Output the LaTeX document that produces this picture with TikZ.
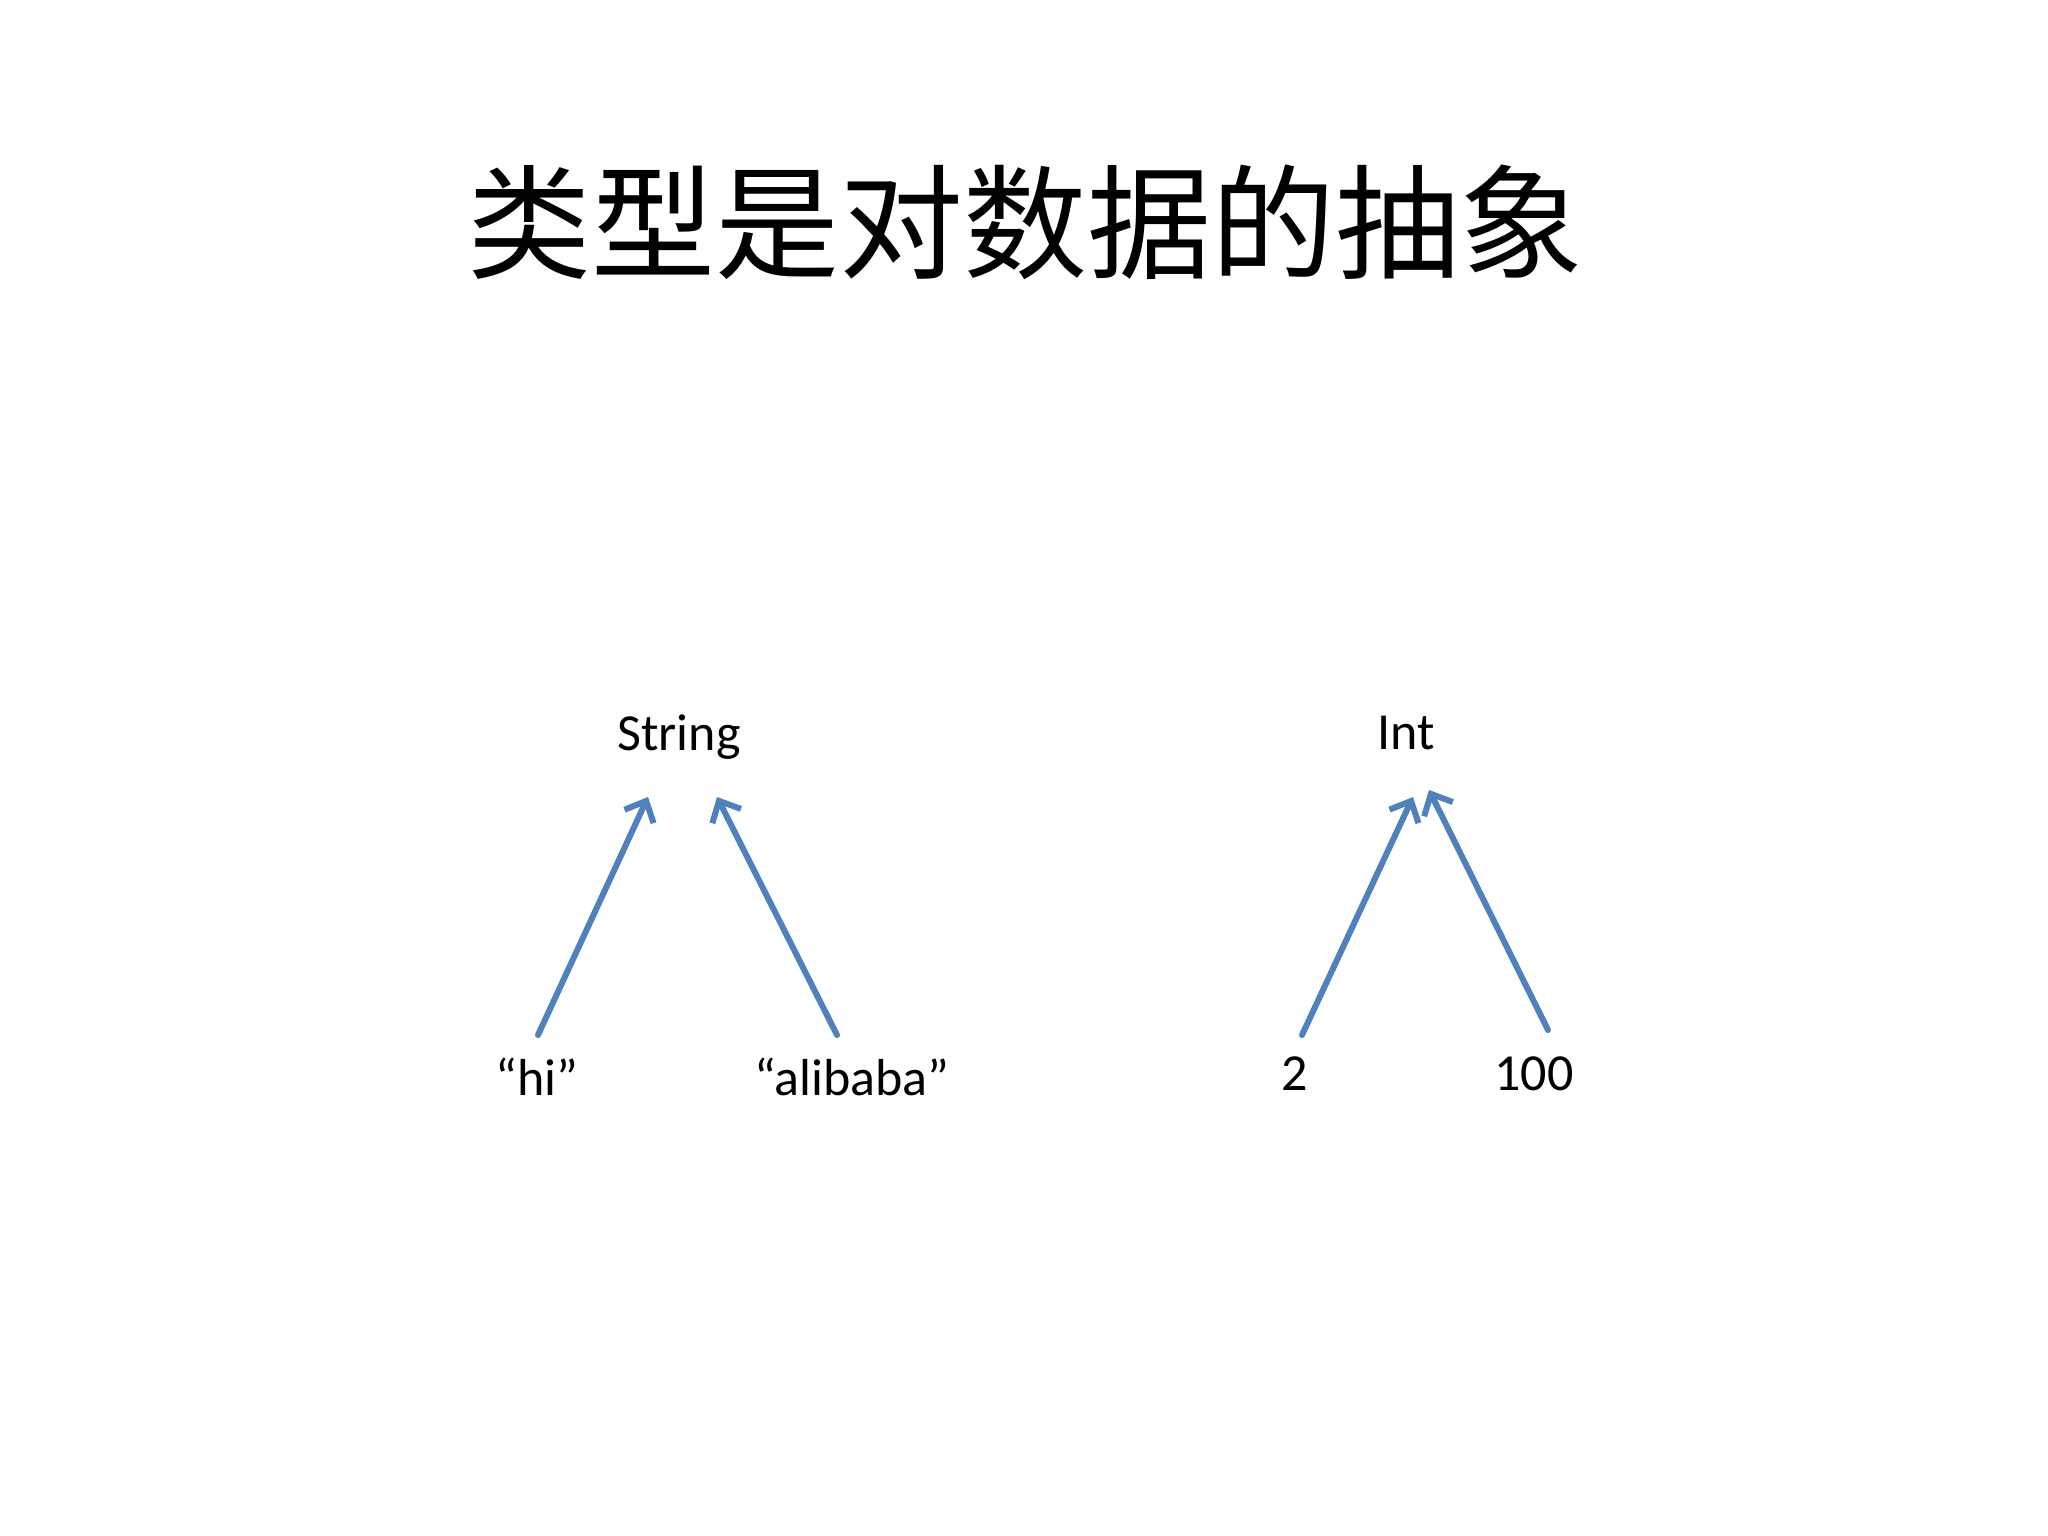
\documentclass[tikz,border=0pt]{standalone}
\usepackage{fontspec}
\setmainfont{Carlito}
\newfontfamily\cjk{Noto Sans CJK SC}
\usetikzlibrary{arrows.meta}
\definecolor{arrowblue}{RGB}{79,129,189}
\tikzset{
  lbl/.style={inner sep=0pt, anchor=base, font=\fontsize{52}{60}\selectfont},
  ttl/.style={inner sep=0pt, anchor=center, font=\cjk\fontsize{124}{130}\selectfont},
  conn/.style={draw=arrowblue, line width=6pt, line cap=round,
    -{Straight Barb[length=17pt,width=32pt,line width=6pt]}}
}
\begin{document}
\begin{tikzpicture}[x=1pt,y=-1pt]
\useasboundingbox[fill=white] (0,0) rectangle (2048,1536);
\node[ttl] (title) at (1025,222) {类型是对数据的抽象};
\node[lbl] (string) at (679,750) {String};
\node[lbl] (int) at (1406,749) {Int};
\node[lbl] (hi) at (537,1095) {“hi”};
\node[lbl] (ali) at (852,1095) {“alibaba”};
\node[lbl] (two) at (1295,1090) {2};
\node[lbl] (hund) at (1534,1090) {100};
\coordinate (hiT) at (538,1035);
\coordinate (strA) at (648,797);
\coordinate (aliT) at (837,1035);
\coordinate (strB) at (717,797);
\coordinate (twoT) at (1302,1035);
\coordinate (intA) at (1413,797);
\coordinate (hundT) at (1548,1030);
\coordinate (intB) at (1429,790);
\draw[conn] (hiT) -- (strA);
\draw[conn] (aliT) -- (strB);
\draw[conn] (twoT) -- (intA);
\draw[conn] (hundT) -- (intB);
\end{tikzpicture}
\end{document}
